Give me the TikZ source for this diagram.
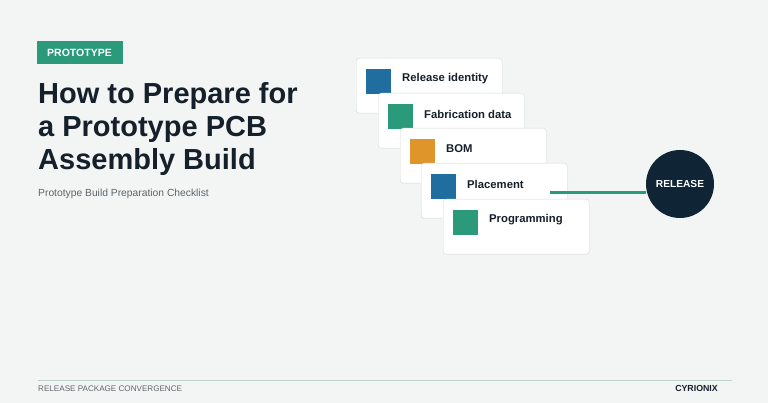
\documentclass[tikz,border=0pt]{standalone}
\usepackage{fontspec}
\setmainfont{Liberation Sans}
\usetikzlibrary{positioning}

\definecolor{bgpaper}{HTML}{F3F5F4}
\definecolor{ink}{HTML}{15202A}
\definecolor{mute}{HTML}{5C656B}
\definecolor{tealgreen}{HTML}{2A9A7B}
\definecolor{steelblue}{HTML}{1F6E9F}
\definecolor{amber}{HTML}{E0952A}
\definecolor{navy}{HTML}{0F2536}
\definecolor{edge}{HTML}{D3D8DA}
\definecolor{rule}{HTML}{BCD6CD}

\begin{document}
\begin{tikzpicture}[
			x=1pt, y=-1pt,
			card/.style={draw=edge, fill=white, rectangle, rounded corners=3pt, minimum width=146pt, minimum height=55pt, anchor=north west, inner sep=0pt},
			swatch/.style={rectangle, minimum size=25pt, inner sep=0pt, anchor=north west},
			cardtext/.style={anchor=west, inner sep=0pt, text=ink, font=\fontsize{11.3}{13}\selectfont\bfseries},
			titleline/.style={anchor=base west, inner sep=0pt, text=ink, font=\fontsize{29}{32}\selectfont\bfseries},
			link/.style={tealgreen, line width=3pt}
			]
			% Fond
			\fill[bgpaper] (0,0) rectangle (768,403);
			\useasboundingbox (0,0) rectangle (768,403);

			% Etiquette et titre
			\node[fill=tealgreen, text=white, minimum width=86pt, minimum height=23pt, inner sep=0pt,
				font=\fontsize{10.5}{12}\selectfont\bfseries] (tag) at (79.5,52.5) {PROTOTYPE};
			\node[titleline] (title1) at (38,104) {How to Prepare for};
			\node[titleline] (title2) at (38,137) {a Prototype PCB};
			\node[titleline] (title3) at (38,170) {Assembly Build};
			\node[anchor=base west, inner sep=0pt, text=mute, font=\fontsize{10.3}{12}\selectfont] (subtitle) at (38,197) {Prototype Build Preparation Checklist};

			% Cartes
			\node[card] (identity) at (356,58) {};
			\node[swatch, fill=steelblue] (identitybox) at (366,69) {};
			\node[cardtext] (identitytext) at (402,79) {Release identity};

			\node[card] (fabrication) at (378,93) {};
			\node[swatch, fill=tealgreen] (fabricationbox) at (388,104) {};
			\node[cardtext] (fabricationtext) at (424,114) {Fabrication data};

			\node[card] (bom) at (400,128) {};
			\node[swatch, fill=amber] (bombox) at (410,139) {};
			\node[cardtext] (bomtext) at (446,149) {BOM};

			\node[card] (placement) at (421,163) {};
			\node[swatch, fill=steelblue] (placementbox) at (431,174) {};
			\node[cardtext] (placementtext) at (467,184) {Placement};

			% Liaison vers la sortie
			\node[circle, fill=navy, text=white, minimum size=68pt, inner sep=0pt,
				font=\fontsize{10.2}{12}\selectfont\bfseries] (release) at (680,184) {RELEASE};
			\coordinate (tap) at ([xshift=-17pt, yshift=-1.5pt]placement.east);
			\draw[link] (tap) -- (tap -| release.west);

			\node[card] (programming) at (443,199) {};
			\node[swatch, fill=tealgreen] (programmingbox) at (453,210) {};
			\node[cardtext] (programmingtext) at (489,220) {Programming};

			% Pied de page
			\coordinate (footl) at (38,380);
			\coordinate (footr) at (732,380);
			\draw[rule, line width=0.8pt] (footl) -- (footr);
			\node[anchor=west, inner sep=0pt, text=mute, font=\fontsize{8.1}{10}\selectfont] (footer) at (38,388.5) {RELEASE PACKAGE CONVERGENCE};
			\node[anchor=east, inner sep=0pt, text=ink, font=\fontsize{8.8}{10}\selectfont\bfseries] (brand) at (718,388.5) {CYRIONIX};
		\end{tikzpicture}
\end{document}
